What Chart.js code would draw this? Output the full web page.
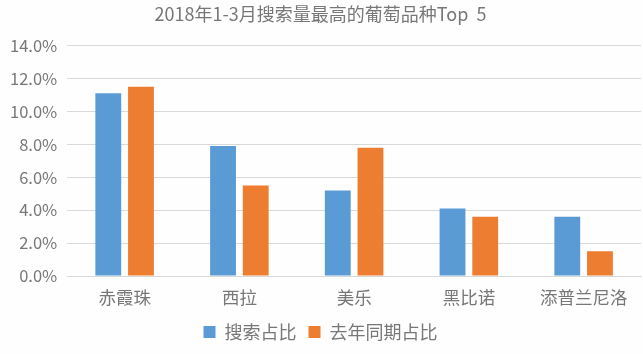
<!DOCTYPE html>
<html>
<head>
<meta charset="utf-8">
<script src="https://cdn.jsdelivr.net/npm/chart.js@4"></script>
<style>
  html, body { margin: 0; padding: 0; background: #fefefe; }
  #wrap { width: 643px; height: 354px; }
</style>
</head>
<body>
<div id="wrap"><canvas id="grape-chart"></canvas></div>
<script>
const varieties = ["赤霞珠", "西拉", "美乐", "黑比诺", "添普兰尼洛"];
const searchShare = [11.1, 7.9, 5.2, 4.1, 3.6];
const lastYearShare = [11.5, 5.5, 7.8, 3.6, 1.5];
const seriesNames = ["搜索占比", "去年同期占比"];
const yTicks = [0, 2, 4, 6, 8, 10, 12, 14];

const fontFamily = "'Noto Sans CJK SC', 'Noto Sans', sans-serif";
const textColor = "#777777";

const ctx = document.querySelector("#grape-chart").getContext("2d");

new Chart(ctx, {
    type: "bar",
    data: {
        labels: varieties,
        datasets: [
            {
                label: seriesNames[0],
                data: searchShare,
                backgroundColor: "#5b9bd5",
            },
            {
                label: seriesNames[1],
                data: lastYearShare,
                backgroundColor: "#ed7d31",
            },
        ],
    },
    options: {
        responsive: true,
        maintainAspectRatio: false,
        animation: false,
        categoryPercentage: 0.57,
        barPercentage: 0.79,
        layout: {
            padding: { left: 0, right: 2, top: 0, bottom: 3 },
        },
        scales: {
            x: {
                grid: { display: false },
                border: { color: "#d9d9d9" },
                ticks: {
                    color: textColor,
                    font: { family: fontFamily, size: 17.5 },
                    padding: 3,
                },
            },
            y: {
                min: 0,
                max: 14,
                afterBuildTicks: (axis) => {
                    axis.ticks = yTicks.map((v) => ({ value: v }));
                },
                grid: { color: "#d9d9d9", drawTicks: false },
                border: { display: false },
                ticks: {
                    color: textColor,
                    padding: 10,
                    font: { family: fontFamily, size: 16.5 },
                    callback: (v) => v.toFixed(1) + "%",
                },
            },
        },
        plugins: {
            title: {
                display: true,
                text: "2018年1-3月搜索量最高的葡萄品种Top  5",
                color: textColor,
                font: { family: fontFamily, size: 18, weight: "normal" },
                padding: { top: 3, bottom: 21 },
            },
            legend: {
                position: "bottom",
                labels: {
                    color: textColor,
                    boxWidth: 12,
                    boxHeight: 12,
                    padding: 12,
                    font: { family: fontFamily, size: 18 },
                },
            },
            tooltip: { enabled: false },
        },
    },
});
</script>
</body>
</html>
